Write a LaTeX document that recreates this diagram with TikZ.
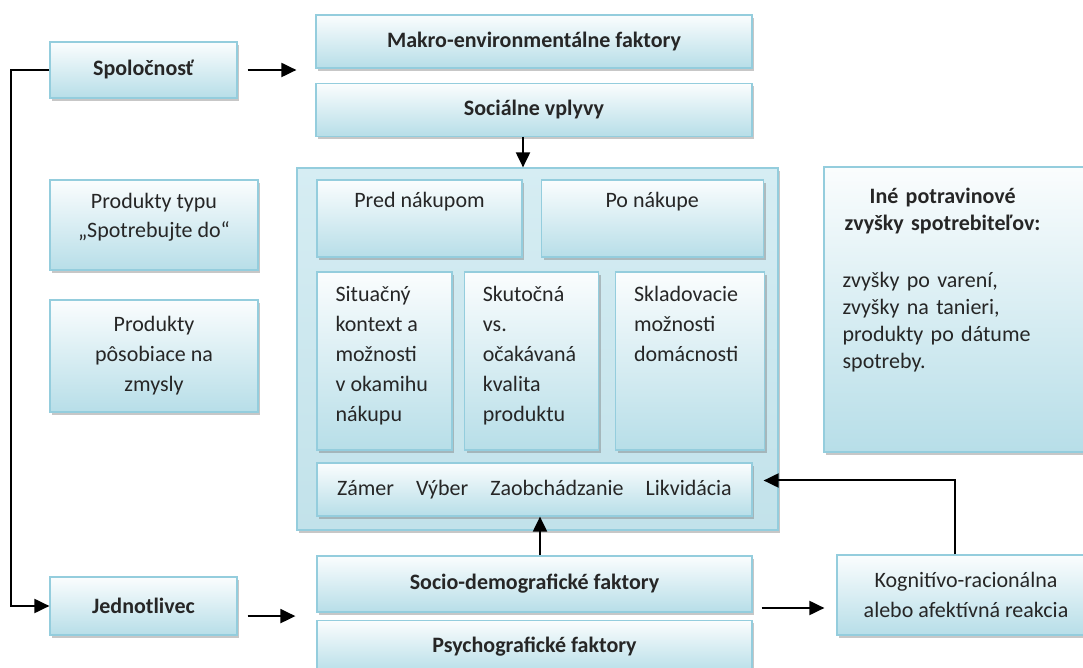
\documentclass[tikz,border=0pt]{standalone}
\usepackage{fontspec}
\setmainfont{Carlito}
\usepackage{tikz}
\usetikzlibrary{positioning}
\usetikzlibrary{arrows.meta}
\usetikzlibrary{shadows}
\usetikzlibrary{calc}
\usepackage{xcolor}
\definecolor{boxblue}{RGB}{183,222,232}
\definecolor{boxline}{RGB}{148,205,221}
\definecolor{konttop}{RGB}{214,237,243}
\definecolor{kontbot}{RGB}{194,226,234}

\begin{document}
\begin{tikzpicture}[x=0.5pt, y=-0.5pt,
	box/.style={draw=boxline, line width=0.6pt, top color=white!94!boxblue, bottom color=boxblue, drop shadow={shadow xshift=1.2pt, shadow yshift=-1.5pt, fill=black!55, opacity=0.4}, inner sep=2pt, align=center, font=\fontsize{11}{15}\selectfont, text=black!85},
	lbl/.style={font=\fontsize{11}{15}\selectfont, text=black!85, align=left, inner sep=3.6pt},
	conn/.style={black, line width=1pt, -{Triangle[length=7.5pt, width=7pt]}}]
				    		\useasboundingbox (0,0) rectangle (1083,668);
				    		\node[box, minimum width=93.5pt, minimum height=28pt, font=\fontsize{11}{15}\selectfont\bfseries] (spol) at (143.5,70) {Spoločnosť};
				    		\node[box, minimum width=93.5pt, minimum height=29pt, font=\fontsize{11}{15}\selectfont\bfseries] (jedn) at (143.5,606) {Jednotlivec};
				    		\node[box, minimum width=104pt, minimum height=45pt, label={[lbl, name=prod1t, align=center, font=\fontsize{11}{14.5}\selectfont, anchor=north, yshift=-3pt]north:{Produkty typu\\„Spotrebujte do“}}] (prod1) at (154,225) {};
				    		\node[box, minimum width=104pt, minimum height=56pt] (prod2) at (154,356) {Produkty\\pôsobiace na\\zmysly};
				    		\node[box, minimum width=218pt, minimum height=26.5pt, font=\fontsize{11}{15}\selectfont\bfseries] (makro) at (534,41.5) {Makro-environmentálne faktory};
				    		\node[box, minimum width=218pt, minimum height=26.5pt, font=\fontsize{11}{15}\selectfont\bfseries, below=7pt of makro] (socv) {Sociálne vplyvy};
				    		\node[box, top color=konttop, bottom color=kontbot, minimum width=240.5pt, minimum height=181pt] (kont) at (537.5,349) {};
				    		\node[box, minimum width=102.5pt, minimum height=38.5pt, label={[lbl, name=predt, anchor=north, yshift=-2.5pt]north:{Pred nákupom}}] (pred) at (419.5,218.5) {};
				    		\node[box, minimum width=111pt, minimum height=38.5pt, right=9pt of pred, label={[lbl, name=pot, anchor=north, yshift=-2.5pt]north:{Po nákupe}}] (po) {};
				    		\node[box, minimum width=67.5pt, minimum height=89pt, label={[lbl, name=situt, anchor=north west, xshift=5.8pt, yshift=-3.5pt]north west:{Situačný\\kontext a\\možnosti\\v okamihu\\nákupu}}] (situ) at (384.5,361) {};
				    		\node[box, minimum width=67pt, minimum height=89pt, right=5.5pt of situ, label={[lbl, name=skutt, anchor=north west, xshift=5.8pt, yshift=-3.5pt]north west:{Skutočná\\vs.\\očakávaná\\kvalita\\produktu}}] (skut) {};
				    		\node[box, minimum width=74.5pt, minimum height=89pt, right=8pt of skut, label={[lbl, name=skladt, anchor=north west, xshift=5.8pt, yshift=-3.5pt]north west:{Skladovacie\\možnosti\\domácnosti}}] (sklad) {};
				    		\node[box, minimum width=217.5pt, minimum height=26.5pt] (cinn) at (534.5,489.5) {Zámer\quad Výber\quad Zaobchádzanie\quad Likvidácia};
				    		\node[box, minimum width=217.5pt, minimum height=28pt, font=\fontsize{11}{15}\selectfont\bfseries] (socd) at (534.5,584) {Socio-demografické faktory};
				    		\node[box, minimum width=217.5pt, minimum height=26.5pt, font=\fontsize{11}{15}\selectfont\bfseries, below=3.5pt of socd] (psych) {Psychografické faktory};
				    		\node[box, minimum width=129pt, minimum height=40pt] (kogn) at (966,595) {Kognitívo-racionálna\\alebo afektívná reakcia};
				    		\node[box, minimum width=135.5pt, minimum height=142.5pt] (ine) at (959.5,309.5) {};
				    		\node[lbl, anchor=north west, text width=100pt, font=\fontsize{11}{13.5}\selectfont] (inet) at ([xshift=5.8pt, yshift=-7pt]ine.north west) {{\centering\bfseries Iné potravinové\\ zvyšky spotrebiteľov:\par}\vspace{15pt}zvyšky po varení,\\ zvyšky na tanieri,\\ produkty po dátume\\ spotreby.};
				    		\coordinate (fac) at ($(socd.south west)!0.5!(psych.north west)$);
				    		\draw[conn, shorten <=5pt, shorten >=9.5pt] (spol.east) -- (spol.east -| makro.west);
				    		\draw[conn] (spol.west) -- ++(-38,0) |- (jedn.west);
				    		\draw[conn, shorten <=5pt, shorten >=10.5pt] (jedn.east |- fac) -- (fac);
				    		\draw[conn] ([xshift=-5.5pt]socv.south) -- ([xshift=-5.5pt]socv.south |- kont.north);
				    		\draw[conn] ([xshift=2.75pt]socd.north) -- ([xshift=2.75pt]socd.north |- cinn.south);
				    		\draw[conn, shorten <=4.5pt, shorten >=6pt] ([yshift=-12pt]socd.east) -- ([yshift=-12pt]socd.east -| kogn.west);
				    		\draw[conn, shorten >=5.5pt] ([xshift=-5.5pt]kogn.north) |- ([yshift=4.5pt]cinn.east);
				    	\end{tikzpicture}
\end{document}
